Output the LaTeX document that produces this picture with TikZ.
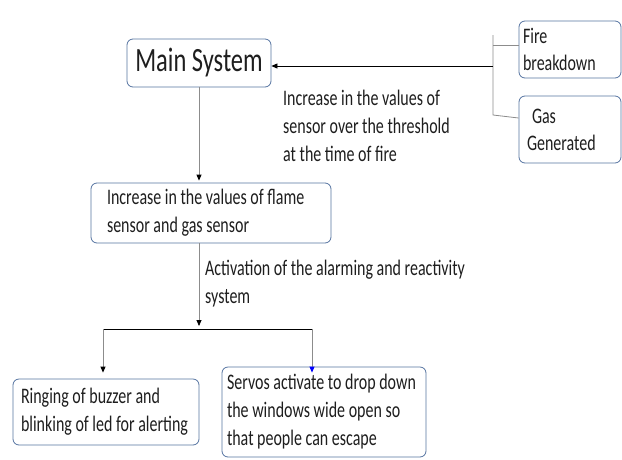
\documentclass[tikz,border=0pt]{standalone}
\usepackage{fontspec}
\setmainfont{Carlito}[FakeStretch=0.72]
\usetikzlibrary{arrows.meta}
\definecolor{boxblue}{HTML}{5473A0}
\definecolor{linegrey}{HTML}{8C8C8C}
\definecolor{textgrey}{HTML}{1E1E1E}
\begin{document}
\begin{tikzpicture}
[x=1pt,y=-1pt,
block box/.style={draw=boxblue,line width=0.8pt,rounded corners=6pt,
  align=flush left,inner ysep=0pt,text=textgrey,
  font=\fontsize{22.2}{28}\selectfont},
label text/.style={align=left,inner sep=0pt,text=textgrey,
  font=\fontsize{22.2}{28}\selectfont},
grey line/.style={draw=linegrey,line width=0.8pt},
grey arrow/.style={grey line,-{Triangle[length=6pt,width=5pt,color=black]}},
black line/.style={draw=black,line width=0.8pt}]
\useasboundingbox (0,0) rectangle (622,459);
\node[block box,align=center,minimum width=144pt,minimum height=48pt,
  font=\fontsize{34}{40}\selectfont] (main) at (199,63) {Main System};
\node[block box,text width=94pt,inner xsep=4pt,minimum height=57pt,
  font=\fontsize{22.2}{27}\selectfont] (fire) at (570,49.5)
  {\spaceskip=0pt Fire\\breakdown};
\node[block box,text width=86pt,inner xsep=8pt,minimum height=67pt,
  font=\fontsize{22.2}{27}\selectfont] (gas) at (570,129.5)
  {\spaceskip=0pt\hspace*{5pt}Gas\\Generated};
\node[block box,text width=208pt,inner xsep=16pt,minimum height=60pt]
  (flame) at (211,213)
  {\spaceskip=0pt Increase in the values of flame\\sensor and gas sensor};
\node[block box,text width=170pt,inner xsep=8pt,minimum height=66pt]
  (buzzer) at (106,412)
  {\spaceskip=0pt Ringing of buzzer and\\blinking of led for alerting};
\node[block box,text width=194pt,inner xsep=5pt,minimum height=90pt]
  (servo) at (324,412)
  {\spaceskip=0pt Servos activate to drop down\\the windows wide open so\\
   that people can escape};
\node[label text,anchor=west] (threshold) at (283,126)
  {Increase in the values of\\sensor over the threshold\\at the time of fire};
\node[label text,anchor=west] (activation) at (205,284)
  {Activation of the alarming and reactivity\\system};
\coordinate (bus top) at (493,35);
\coordinate (bus mid) at (493,66);
\coordinate (bus gas) at (493,115);
\coordinate (split) at (199,329);
\coordinate (split left) at (103,329);
\coordinate (split right) at (312,329);
\draw[grey line] (bus top) -- (bus gas) -- ([yshift=11.5pt]gas.west);
\draw[grey line] (bus top |- 0,45) -- ([yshift=4.5pt]fire.west);
\draw[black line,-{Triangle[length=6pt,width=5pt]}] (bus mid) -- (main.east |- bus mid);
\draw[grey arrow] (main.south) -- ([yshift=2pt]main.south |- flame.north);
\draw[grey arrow] (flame.south -| split) -- ([yshift=3pt]split);
\draw[black line] (split left) -- (split right);
\draw[grey arrow] (split left) -- ([yshift=6pt]split left |- buzzer.north);
\draw[grey line,-{Triangle[length=6pt,width=5pt,color=blue]}]
  (split right) -- ([yshift=-6pt]split right |- servo.north);
\end{tikzpicture}
\end{document}
